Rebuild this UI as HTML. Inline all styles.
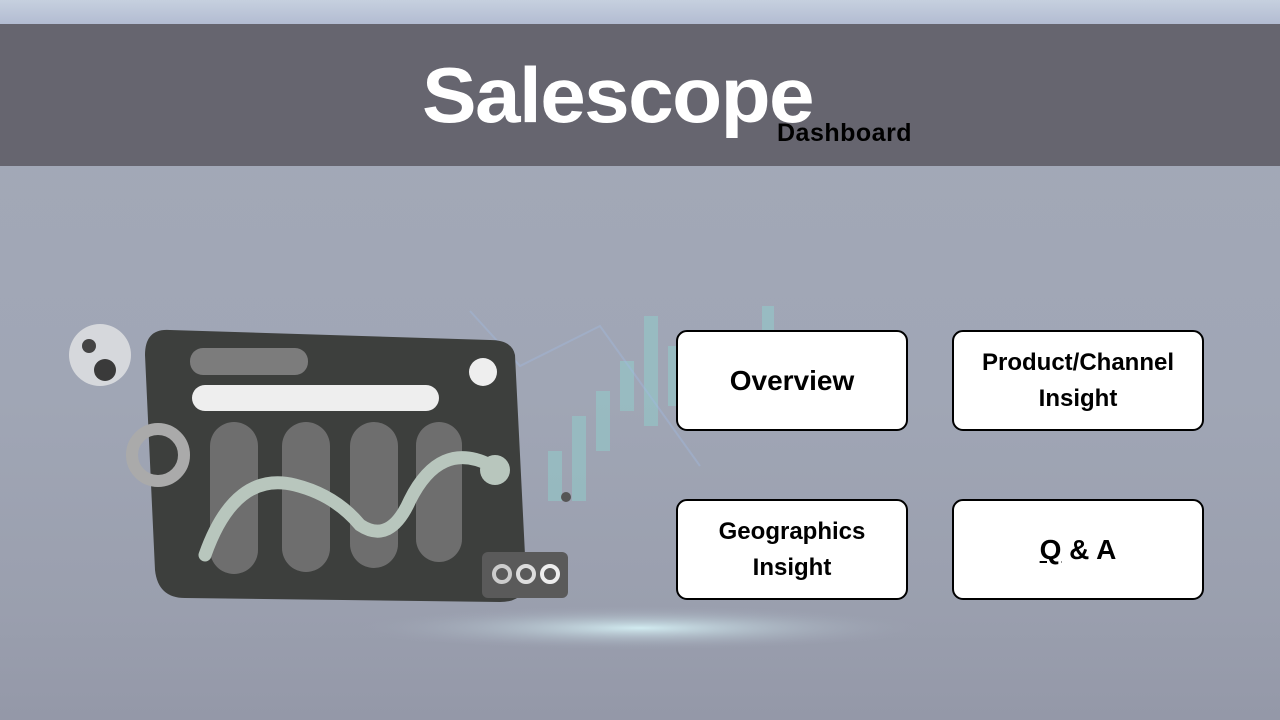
<!DOCTYPE html>
<html><head><meta charset="utf-8"><style>
*{margin:0;padding:0;box-sizing:border-box}
body{width:1280px;height:720px;overflow:hidden;position:relative;font-family:"Liberation Sans",sans-serif;
background:linear-gradient(180deg,#a3a9b8 0%,#a0a6b5 55%,#9a9fae 85%,#9498a8 100%)}
.top{position:absolute;left:0;top:0;width:1280px;height:24px;background:linear-gradient(180deg,#c6d0df,#b3bcd2)}
.ban{position:absolute;left:0;top:24px;width:1280px;height:142px;background:#66656f}
.t{position:absolute;left:422px;top:50px;font-size:78px;font-weight:bold;color:#fff;letter-spacing:-1.5px;transform:scaleX(1.05);transform-origin:left}
.d{position:absolute;left:777px;top:119px;font-size:25px;font-weight:bold;color:#000;letter-spacing:0.5px}
.b{position:absolute;background:#fff;border:2.5px solid #000;border-radius:11px;display:flex;align-items:center;justify-content:center;text-align:center;font-weight:bold;color:#000;line-height:36px}
</style></head><body>
<div class="top"></div>
<svg style="position:absolute;left:0;top:166px" width="1280" height="554">
<defs><radialGradient id="g" cx="0.5" cy="0.5" r="0.5"><stop offset="0" stop-color="#d8f4f8" stop-opacity="0.9"/><stop offset="1" stop-color="#a0a6b5" stop-opacity="0"/></radialGradient></defs>
<ellipse cx="640" cy="462" rx="280" ry="22" fill="url(#g)"/>
<g fill="#8fd5d0" opacity="0.45">
<rect x="548" y="285" width="14" height="50"/><rect x="572" y="250" width="14" height="85"/><rect x="596" y="225" width="14" height="60"/><rect x="620" y="195" width="14" height="50"/><rect x="644" y="150" width="14" height="110"/><rect x="668" y="180" width="10" height="60"/><rect x="762" y="140" width="12" height="40"/>
</g>
<polyline points="470,145 520,200 600,160 700,300" stroke="#9fb8e0" stroke-width="2" fill="none" opacity="0.4"/>
</svg>
<div class="ban"></div>
<div class="t">Salescope</div>
<div class="d">Dashboard</div>
<svg style="position:absolute;left:60px;top:310px" width="540" height="300">
<circle cx="40" cy="45" r="31" fill="#d6d8dc"/>
<circle cx="29" cy="36" r="7" fill="#444"/><circle cx="45" cy="60" r="11" fill="#3a3a3a"/>
<path d="M110,20 Q85,18 85,45 L95,260 Q98,288 125,288 L440,292 Q468,292 466,265 L455,45 Q452,30 430,30 Z" fill="#3d3f3d"/>
<rect x="130" y="38" width="118" height="27" rx="13" fill="#7c7c7c"/>
<rect x="132" y="75" width="247" height="26" rx="13" fill="#eeeeee"/>
<circle cx="423" cy="62" r="14" fill="#eee"/>
<rect x="150" y="112" width="48" height="152" rx="24" fill="#6e6e6e"/>
<rect x="222" y="112" width="48" height="150" rx="24" fill="#6e6e6e"/>
<rect x="290" y="112" width="48" height="146" rx="24" fill="#6e6e6e"/>
<rect x="356" y="112" width="46" height="140" rx="23" fill="#6e6e6e"/>
<path d="M145,245 Q175,160 235,175 Q275,185 300,215 Q330,235 350,190 Q380,130 430,155" stroke="#b8c6bd" stroke-width="13" fill="none" stroke-linecap="round"/>
<circle cx="435" cy="160" r="15" fill="#b8c6bd"/>
<circle cx="98" cy="145" r="26" fill="none" stroke="#aaa" stroke-width="12"/>
<rect x="422" y="242" width="86" height="46" rx="6" fill="#5a5a5a"/>
<circle cx="442" cy="264" r="8" fill="none" stroke="#ccc" stroke-width="4"/>
<circle cx="466" cy="264" r="8" fill="none" stroke="#ddd" stroke-width="4"/>
<circle cx="490" cy="264" r="8" fill="none" stroke="#eee" stroke-width="4"/>
<circle cx="506" cy="187" r="5" fill="#555"/>
</svg>
<div class="b" style="left:676px;top:330px;width:232px;height:101px;font-size:28px">Overview</div>
<div class="b" style="left:952px;top:330px;width:252px;height:101px;font-size:24px">Product/Channel<br>Insight</div>
<div class="b" style="left:676px;top:499px;width:232px;height:101px;font-size:24px">Geographics<br>Insight</div>
<div class="b" style="left:952px;top:499px;width:252px;height:101px;font-size:28px"><span><u>Q</u> &amp; A</span></div>
</body></html>
